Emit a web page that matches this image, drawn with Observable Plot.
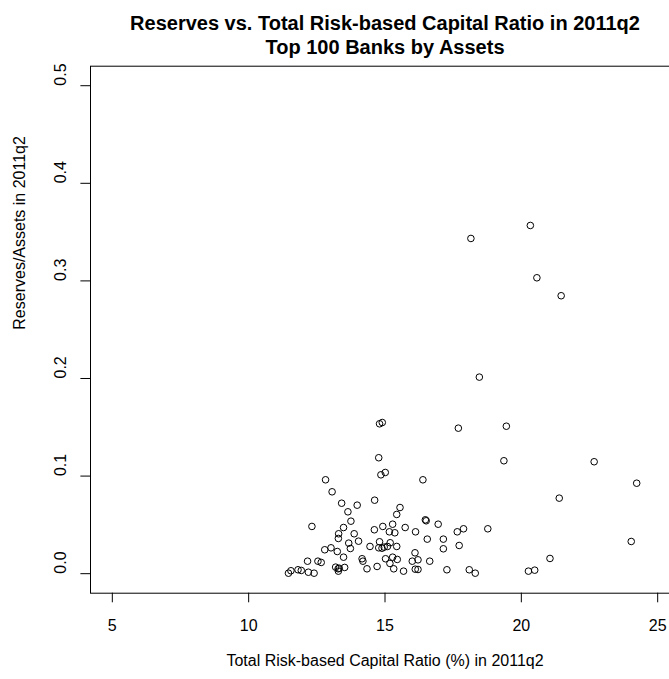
<!DOCTYPE html>
<html>
<head>
<meta charset="utf-8">
<script src="https://cdn.jsdelivr.net/npm/d3@7"></script>
<script src="https://cdn.jsdelivr.net/npm/@observablehq/plot@0.6"></script>
<style>
  html, body { margin: 0; padding: 0; background: white; overflow: hidden; }
</style>
</head>
<body>
<div id="chart"></div>
<script>
const titleLines = ["Reserves vs. Total Risk-based Capital Ratio in 2011q2", "Top 100 Banks by Assets"];
const xTitle = "Total Risk-based Capital Ratio (%) in 2011q2";
const yTitle = "Reserves/Assets in 2011q2";
const xTicks = [5, 10, 15, 20, 25];
const yTicks = [0, 0.1, 0.2, 0.3, 0.4, 0.5];
const yTickLabels = ["0.0", "0.1", "0.2", "0.3", "0.4", "0.5"];

const capitalRatio = [
  11.46, 11.55, 11.81, 11.93, 12.19, 12.40, 12.16, 12.54, 12.66, 12.32,
  12.79, 12.82, 13.02, 13.06, 13.19, 13.28, 13.32, 13.52, 13.29, 13.25,
  13.30, 13.29, 13.41, 13.48, 13.48, 13.64, 13.75, 13.67, 13.73, 13.87,
  13.98, 14.03, 14.16, 14.19, 14.34, 14.45, 14.62, 14.61, 14.71, 14.77,
  14.80, 14.89, 14.97, 15.09, 14.92, 14.77, 14.80, 14.90, 14.85, 15.01,
  15.02, 15.18, 15.16, 15.36, 15.19, 15.28, 15.28, 15.32, 15.43, 15.45,
  15.43, 15.55, 15.68, 15.74, 16.00, 16.21, 16.10, 16.12, 16.11, 16.21,
  16.39, 16.48, 16.51, 16.55, 16.64, 16.95, 17.14, 17.14, 17.27, 17.69,
  17.65, 17.88, 17.72, 18.09, 18.31, 18.15, 18.46, 18.77, 19.36, 19.45,
  20.33, 20.26, 20.49, 20.57, 21.05, 21.39, 21.46, 22.67, 24.03, 24.23
];
const reservesAssets = [
  0.0005, 0.0030, 0.0040, 0.0033, 0.0015, 0.0005, 0.0128, 0.0128, 0.0115, 0.0484,
  0.0245, 0.0962, 0.0265, 0.0839, 0.0067, 0.0050, 0.0056, 0.0064, 0.0026, 0.0227,
  0.0409, 0.0361, 0.0722, 0.0473, 0.0169, 0.0634, 0.0538, 0.0313, 0.0258, 0.0409,
  0.0702, 0.0333, 0.0153, 0.0128, 0.0050, 0.0279, 0.0753, 0.0450, 0.0074, 0.0265,
  0.0327, 0.0261, 0.0272, 0.0279, 0.0484, 0.1188, 0.1536, 0.1549, 0.1013, 0.1037,
  0.0153, 0.0105, 0.0429, 0.0419, 0.0317, 0.0507, 0.0169, 0.0050, 0.0279, 0.0146,
  0.0607, 0.0678, 0.0026, 0.0473, 0.0128, 0.0142, 0.0214, 0.0429, 0.0046, 0.0043,
  0.0962, 0.0552, 0.0542, 0.0354, 0.0128, 0.0507, 0.0354, 0.0255, 0.0040, 0.1491,
  0.0429, 0.0460, 0.0289, 0.0040, 0.0005, 0.3435, 0.2014, 0.0460, 0.1157, 0.1511,
  0.3568, 0.0026, 0.0036, 0.3032, 0.0156, 0.0774, 0.2848, 0.1147, 0.0330, 0.0927
];

const data = capitalRatio.map((x, i) => ({x, y: reservesAssets[i]}));
const yTickData = yTicks.map((v, i) => ({v, label: yTickLabels[i]}));

const chart = Plot.plot({
  width: 669,
  height: 679,
  marginLeft: 90,
  marginRight: -10,
  marginTop: 65.7,
  marginBottom: 86.3,
  style: {fontFamily: "'Liberation Sans', Arial, Helvetica, sans-serif", fontSize: "16px", background: "white", color: "black", overflow: "hidden"},
  x: {domain: [4.2, 25.8]},
  y: {domain: [-0.02, 0.52]},
  marks: [
    Plot.frame({stroke: "black", strokeWidth: 1}),
    Plot.axisX(xTicks, {tickSize: 9.6, tickPadding: 16.7, fontSize: 16, label: null, tickFormat: d => String(d)}),
    Plot.axisY(yTicks, {tickSize: 9.6, tickFormat: () => "", label: null}),
    Plot.text(yTickData, {y: "v", text: "label", frameAnchor: "left", dx: -29.4, rotate: -90, fontSize: 16}),
    Plot.dot(data, {x: "x", y: "y", r: 3.3, stroke: "black", strokeWidth: 1, fill: "none"}),
    Plot.text([titleLines[0]], {text: d => d, frameAnchor: "top", dy: -50.6, fontSize: 20, fontWeight: "bold"}),
    Plot.text([titleLines[1]], {text: d => d, frameAnchor: "top", dy: -26.6, fontSize: 20, fontWeight: "bold"}),
    Plot.text([xTitle], {text: d => d, frameAnchor: "bottom", dy: 72.3, fontSize: 16}),
    Plot.text([yTitle], {text: d => d, frameAnchor: "left", dx: -70.4, rotate: -90, fontSize: 16})
  ]
});
document.getElementById("chart").appendChild(chart);
</script>
</body>
</html>
